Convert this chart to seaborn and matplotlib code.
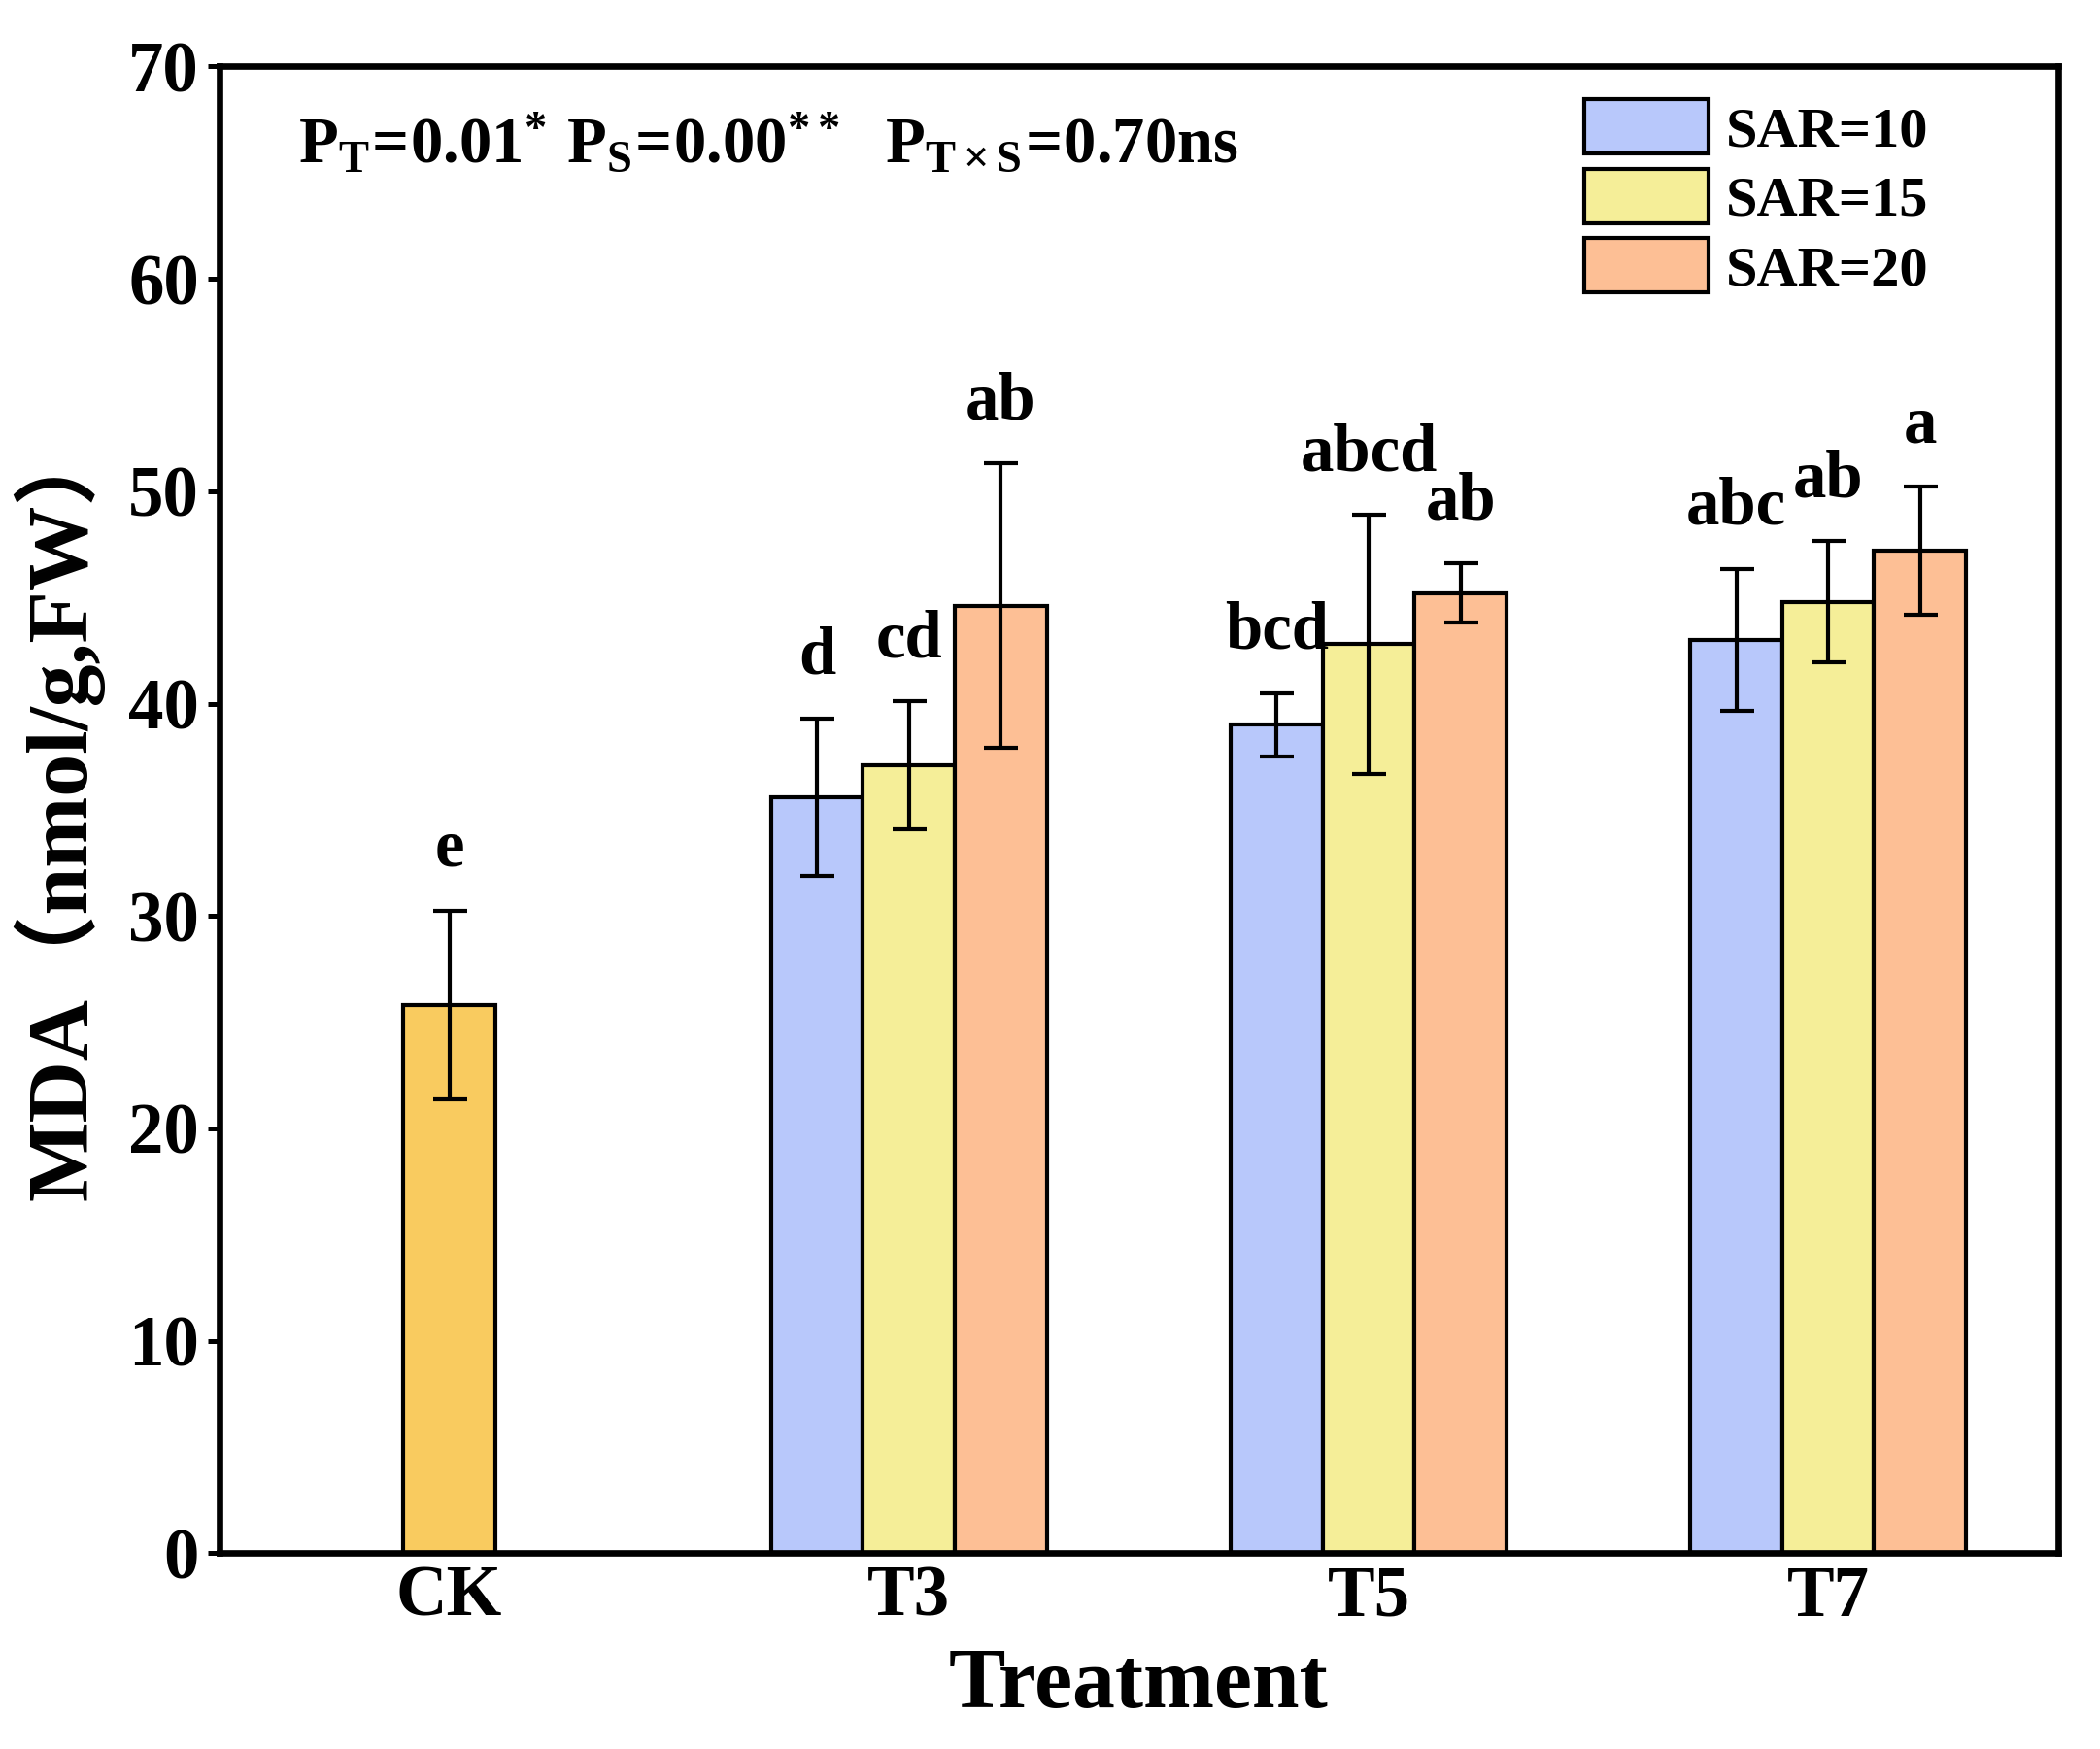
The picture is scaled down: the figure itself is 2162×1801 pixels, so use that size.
import numpy as np
import pandas as pd
import matplotlib
matplotlib.use('Agg')
import matplotlib.pyplot as plt
import seaborn as sns

# data
treatments = ['CK', 'T3', 'T5', 'T7']
sar_levels = ['SAR=10', 'SAR=15', 'SAR=20']
ck_mean = 25.8
ck_sd = 4.45
ck_letter = 'e'
sar10_mean = [35.6, 39.0, 43.0]
sar15_mean = [37.1, 42.8, 44.8]
sar20_mean = [44.6, 45.2, 47.2]
sar10_sd = [3.7, 1.5, 3.35]
sar15_sd = [3.0, 6.1, 2.85]
sar20_sd = [6.7, 1.4, 3.0]
sar10_letters = ['d', 'bcd', 'abc']
sar15_letters = ['cd', 'abcd', 'ab']
sar20_letters = ['ab', 'ab', 'a']

colors = ['#B8C8FB', '#F5EE98', '#FDBF95']
ck_color = '#F9CB5F'

sns.set_style('ticks')
plt.rcParams['font.family'] = ['Liberation Serif', 'Noto Sans CJK SC']
plt.rcParams['font.weight'] = 'bold'
plt.rcParams['mathtext.fontset'] = 'custom'
plt.rcParams['mathtext.rm'] = 'Liberation Serif:bold'
plt.rcParams['mathtext.it'] = 'Liberation Serif:bold'
plt.rcParams['mathtext.bf'] = 'Liberation Serif:bold'
for k in ['text.color', 'axes.labelcolor', 'xtick.color', 'ytick.color', 'axes.edgecolor']:
    plt.rcParams[k] = 'black'

rows = []
# CK is put on the middle level so it sits centred, recoloured later
rows.append(dict(trt='CK', sar='SAR=15', mean=ck_mean, sd=ck_sd, letter=ck_letter))
for i, t in enumerate(treatments[1:]):
    rows.append(dict(trt=t, sar='SAR=10', mean=sar10_mean[i], sd=sar10_sd[i], letter=sar10_letters[i]))
    rows.append(dict(trt=t, sar='SAR=15', mean=sar15_mean[i], sd=sar15_sd[i], letter=sar15_letters[i]))
    rows.append(dict(trt=t, sar='SAR=20', mean=sar20_mean[i], sd=sar20_sd[i], letter=sar20_letters[i]))
df = pd.DataFrame(rows)

fig, ax = plt.subplots(figsize=(2162 / 300, 1801 / 300), dpi=300)
fig.subplots_adjust(left=0.1045, right=0.98, top=0.962, bottom=0.112)

sns.barplot(data=df, x='trt', y='mean', hue='sar', order=treatments, hue_order=sar_levels,
            palette=colors, saturation=1, width=0.6, errorbar=None, edgecolor='black',
            linewidth=1.0, ax=ax, legend=True)

# match bars to rows and add error bars / letters
bars = [p for p in ax.patches if p.get_height() > 0 and p.get_width() < 0.5]
for p in bars:
    xc = p.get_x() + p.get_width() / 2
    h = p.get_height()
    ti = int(round(xc))
    sub = df[(df['trt'] == treatments[ti]) & np.isclose(df['mean'], h)]
    if len(sub) == 0:
        continue
    r = sub.iloc[0]
    if r['trt'] == 'CK':
        p.set_facecolor(ck_color)
    ax.errorbar(xc, r['mean'], yerr=r['sd'], fmt='none', ecolor='black',
                elinewidth=1.0, capsize=4.2, capthick=1.0)
    ax.annotate(r['letter'], (xc, r['mean'] + r['sd']), xytext=(0, 11),
                textcoords='offset points', ha='center', va='baseline',
                fontsize=16.5, fontweight='bold')

ax.set_xlim(-0.5, 3.5)
ax.set_ylim(0, 70)
ax.set_yticks(np.arange(0, 71, 10))
ax.tick_params(axis='y', direction='out', length=3, width=1.2, labelsize=17.5, pad=2)
ax.tick_params(axis='x', direction='in', length=3, width=1.2, labelsize=17.5, pad=3)
for lab in ax.get_xticklabels() + ax.get_yticklabels():
    lab.set_fontweight('bold')
for s in ax.spines.values():
    s.set_linewidth(1.6)
    s.set_visible(True)

ax.set_xlabel('Treatment', fontsize=21, fontweight='bold', labelpad=4)
ax.set_ylabel('MDA（nmol/g,FW）', fontsize=21, fontweight='bold', labelpad=6)

ax.text(0.043, 0.935, r'$\mathrm{P_{T}\!=\!0.01^{*}\ P_{S}\!=\!0.00^{**}\ \ P_{T\times S}\!=\!0.70ns}$',
        transform=ax.transAxes, fontsize=16, ha='left', va='baseline')

leg = ax.legend(loc='upper left', bbox_to_anchor=(0.73, 0.993), frameon=False,
                fontsize=14, handlelength=2.2, handleheight=1.1, labelspacing=0.2,
                handletextpad=0.3, borderaxespad=0)
for h in leg.legend_handles:
    h.set_edgecolor('black')
    h.set_linewidth(1.0)
for t in leg.get_texts():
    t.set_fontweight('bold')

fig.savefig('out.png', dpi=300)
